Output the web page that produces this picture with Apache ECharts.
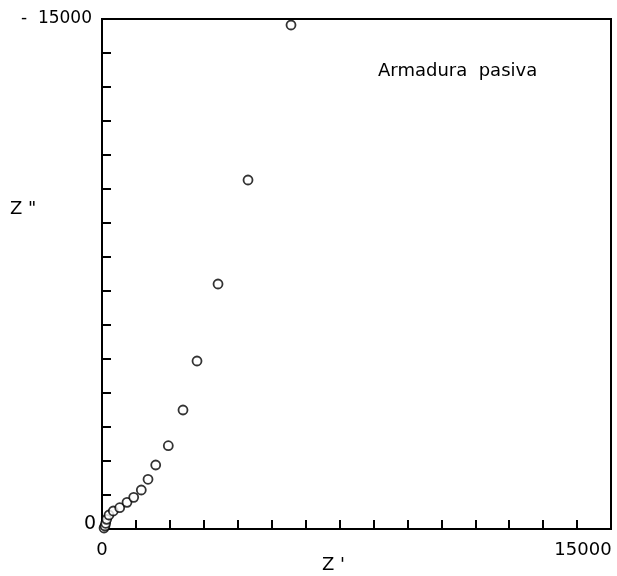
<html>
<head>
<meta charset="utf-8">
<script src="https://cdn.jsdelivr.net/npm/echarts@6/dist/echarts.min.js"></script>
<style>
    body { margin: 0; padding: 0; background: #fff; }
    #chart { width: 617px; height: 576px; }
</style>
</head>
<body>
<div id="chart"></div>
<script type="text/javascript">
    var zReal = [60, 88, 109, 139, 206, 333, 522, 737, 934, 1158, 1356, 1583, 1954, 2387, 2800, 3419, 4303, 5570];
    var zImag = [30, 88, 168, 285, 412, 529, 626, 785, 932, 1147, 1462, 1882, 2450, 3500, 4941, 7206, 10265, 14824];
    var xTickLabels = { 0: '0', 15000: '15000' };
    var yTickLabels = { 0: '0', 15000: '-  15000' };

    var points = [];
    for (var c = 0; c < zReal.length; c++) {
        points.push([zReal[c], zImag[c]]);
    }

    var font = 'DejaVu Sans';
    var chart = echarts.init(document.getElementById('chart'));

    const option = {
        backgroundColor: '#fff',
        animation: false,
        grid: {
            left: 102,
            right: 6,
            top: 19,
            bottom: 47,
            show: true,
            borderColor: '#000',
            borderWidth: 2
        },
        xAxis: {
            type: 'value',
            min: 0,
            max: 15000,
            interval: 1000,
            splitLine: { show: false },
            axisLine: { lineStyle: { color: '#000', width: 2 } },
            axisTick: { inside: true, length: 9, lineStyle: { color: '#000', width: 2 } },
            axisLabel: {
                margin: 12,
                fontFamily: font,
                fontSize: 18,
                color: '#000',
                formatter: function (v) {
                    if (v === 15000) return '{r|' + xTickLabels[v] + '}';
                    return xTickLabels[v] !== undefined ? xTickLabels[v] : '';
                },
                rich: {
                    r: { fontFamily: font, fontSize: 18, color: '#000', padding: [0, 56, 0, 0] }
                }
            }
        },
        yAxis: {
            type: 'value',
            min: 0,
            max: 15000,
            interval: 1000,
            splitLine: { show: false },
            axisLine: { lineStyle: { color: '#000', width: 2 } },
            axisTick: { inside: true, length: 9, lineStyle: { color: '#000', width: 2 } },
            axisLabel: {
                margin: 6,
                fontFamily: font,
                color: '#000',
                formatter: function (v) {
                    if (v === 0) return '{z|' + yTickLabels[v] + '}';
                    if (v === 15000) return '{t|' + yTickLabels[v] + '}';
                    return '';
                },
                rich: {
                    z: { fontFamily: font, fontSize: 19, color: '#000', padding: [0, 0, 10, 0] },
                    t: { fontFamily: font, fontSize: 17, color: '#000', padding: [0, 4, 0, 0] }
                }
            }
        },
        graphic: [
            {
                type: 'text', left: 322, top: 556,
                style: { text: "Z '", font: '18px "DejaVu Sans"', fill: '#000' }
            },
            {
                type: 'text', left: 10, top: 200,
                style: { text: 'Z "', font: '18px "DejaVu Sans"', fill: '#000' }
            },
            {
                type: 'text', left: 378, top: 62,
                style: { text: 'Armadura  pasiva', font: '18px "DejaVu Sans"', fill: '#000' }
            }
        ],
        series: [
            {
                type: 'scatter',
                data: points,
                symbol: 'circle',
                symbolSize: 9,
                itemStyle: { color: '#fff', borderColor: '#000', borderWidth: 1.8 }
            }
        ]
    };
    chart.setOption(option);
</script>
</body>
</html>
